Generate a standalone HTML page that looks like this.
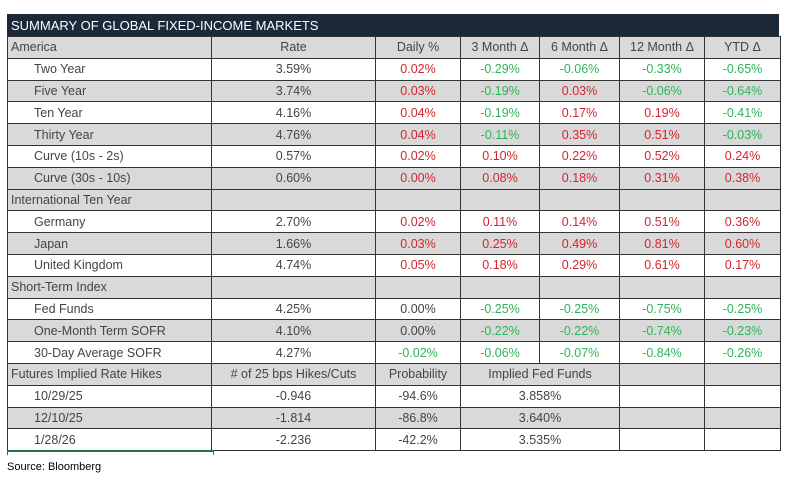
<!DOCTYPE html>
<html><head><meta charset="utf-8"><style>
body{margin:0;width:795px;height:481px;background:#fff;position:relative;overflow:hidden;font-family:"Liberation Sans",sans-serif}
.title{position:absolute;left:7px;top:14px;width:772px;height:22px;background:#1b2938;color:#fff;font-size:13px;line-height:23px;padding-left:4px;box-sizing:border-box}
table{position:absolute;left:7px;top:36px;border-collapse:collapse;table-layout:fixed;width:773px;font-size:12.5px;color:#444}
td{border:1px solid #333;height:20.8px;padding:0;text-align:center;white-space:nowrap;overflow:hidden}
tr.g td{background:#d9d9d9}
td.l{text-align:left;padding-left:3px}
td.i{text-align:left;padding-left:26px}
.r{color:#d4252f}.n{color:#2fb35a}
.src{position:absolute;left:7px;top:461px;font-size:11px;color:#000}
.sel{position:absolute;left:7px;top:450px;width:205px;height:3px;border:1px solid #217346;border-top:2px solid #217346;border-bottom:none}
</style></head><body>
<div class="title">SUMMARY OF GLOBAL FIXED-INCOME MARKETS</div>
<table>
<colgroup><col style="width:204px"><col style="width:164px"><col style="width:85px"><col style="width:79px"><col style="width:80px"><col style="width:85px"><col style="width:76px"></colgroup>
<tr class="g"><td class="l">America</td><td>Rate</td><td>Daily %</td><td>3 Month Δ</td><td>6 Month Δ</td><td>12 Month Δ</td><td>YTD Δ</td></tr>
<tr><td class="i">Two Year</td><td>3.59%</td><td class="r">0.02%</td><td class="n">-0.29%</td><td class="n">-0.06%</td><td class="n">-0.33%</td><td class="n">-0.65%</td></tr>
<tr class="g"><td class="i">Five Year</td><td>3.74%</td><td class="r">0.03%</td><td class="n">-0.19%</td><td class="r">0.03%</td><td class="n">-0.06%</td><td class="n">-0.64%</td></tr>
<tr><td class="i">Ten Year</td><td>4.16%</td><td class="r">0.04%</td><td class="n">-0.19%</td><td class="r">0.17%</td><td class="r">0.19%</td><td class="n">-0.41%</td></tr>
<tr class="g"><td class="i">Thirty Year</td><td>4.76%</td><td class="r">0.04%</td><td class="n">-0.11%</td><td class="r">0.35%</td><td class="r">0.51%</td><td class="n">-0.03%</td></tr>
<tr><td class="i">Curve (10s - 2s)</td><td>0.57%</td><td class="r">0.02%</td><td class="r">0.10%</td><td class="r">0.22%</td><td class="r">0.52%</td><td class="r">0.24%</td></tr>
<tr class="g"><td class="i">Curve (30s - 10s)</td><td>0.60%</td><td class="r">0.00%</td><td class="r">0.08%</td><td class="r">0.18%</td><td class="r">0.31%</td><td class="r">0.38%</td></tr>
<tr class="g"><td class="l">International Ten Year</td><td></td><td></td><td></td><td></td><td></td><td></td></tr>
<tr><td class="i">Germany</td><td>2.70%</td><td class="r">0.02%</td><td class="r">0.11%</td><td class="r">0.14%</td><td class="r">0.51%</td><td class="r">0.36%</td></tr>
<tr class="g"><td class="i">Japan</td><td>1.66%</td><td class="r">0.03%</td><td class="r">0.25%</td><td class="r">0.49%</td><td class="r">0.81%</td><td class="r">0.60%</td></tr>
<tr><td class="i">United Kingdom</td><td>4.74%</td><td class="r">0.05%</td><td class="r">0.18%</td><td class="r">0.29%</td><td class="r">0.61%</td><td class="r">0.17%</td></tr>
<tr class="g"><td class="l">Short-Term Index</td><td></td><td></td><td></td><td></td><td></td><td></td></tr>
<tr><td class="i">Fed Funds</td><td>4.25%</td><td>0.00%</td><td class="n">-0.25%</td><td class="n">-0.25%</td><td class="n">-0.75%</td><td class="n">-0.25%</td></tr>
<tr class="g"><td class="i">One-Month Term SOFR</td><td>4.10%</td><td>0.00%</td><td class="n">-0.22%</td><td class="n">-0.22%</td><td class="n">-0.74%</td><td class="n">-0.23%</td></tr>
<tr><td class="i">30-Day Average SOFR</td><td>4.27%</td><td class="n">-0.02%</td><td class="n">-0.06%</td><td class="n">-0.07%</td><td class="n">-0.84%</td><td class="n">-0.26%</td></tr>
<tr class="g"><td class="l">Futures Implied Rate Hikes</td><td># of 25 bps Hikes/Cuts</td><td>Probability</td><td colspan="2">Implied Fed Funds</td><td></td><td></td></tr>
<tr><td class="i">10/29/25</td><td>-0.946</td><td>-94.6%</td><td colspan="2">3.858%</td><td></td><td></td></tr>
<tr class="g"><td class="i">12/10/25</td><td>-1.814</td><td>-86.8%</td><td colspan="2">3.640%</td><td></td><td></td></tr>
<tr><td class="i">1/28/26</td><td>-2.236</td><td>-42.2%</td><td colspan="2">3.535%</td><td></td><td></td></tr>
</table>
<div class="sel"></div>
<div class="src">Source: Bloomberg</div>
</body></html>
